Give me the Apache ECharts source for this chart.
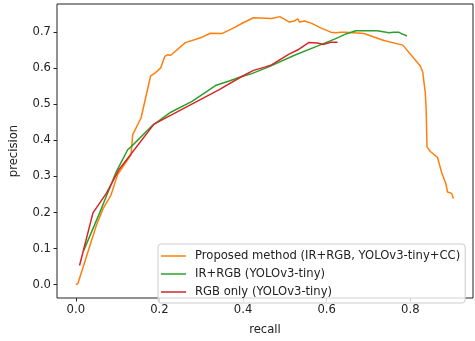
<!DOCTYPE html>
<html>
<head>
<meta charset="utf-8">
<script src="https://cdn.jsdelivr.net/npm/echarts@6/dist/echarts.min.js"></script>
<style>html,body{margin:0;padding:0;background:#fff}#c{width:475px;height:341px}</style>
</head>
<body>
<div id="c"></div>
<script>
const seriesNames = ['Proposed method (IR+RGB, YOLOv3-tiny+CC)', 'IR+RGB (YOLOv3-tiny)', 'RGB only (YOLOv3-tiny)'];
const xTicks = [0, 0.2, 0.4, 0.6, 0.8];
const yTicks = [0, 0.1, 0.2, 0.3, 0.4, 0.5, 0.6, 0.7];
const proposed = [[0,0],[0.005,0.003],[0.049,0.164],[0.065,0.21],[0.084,0.248],[0.1,0.305],[0.132,0.36],[0.136,0.416],[0.156,0.462],[0.179,0.579],[0.191,0.588],[0.203,0.601],[0.213,0.633],[0.219,0.637],[0.227,0.636],[0.262,0.671],[0.302,0.686],[0.322,0.697],[0.349,0.696],[0.373,0.709],[0.397,0.724],[0.425,0.740],[0.468,0.738],[0.488,0.743],[0.511,0.728],[0.523,0.731],[0.531,0.737],[0.535,0.728],[0.547,0.731],[0.563,0.725],[0.587,0.711],[0.610,0.700],[0.622,0.698],[0.634,0.700],[0.646,0.700],[0.689,0.696],[0.737,0.677],[0.782,0.664],[0.824,0.606],[0.830,0.588],[0.836,0.530],[0.838,0.485],[0.840,0.382],[0.848,0.369],[0.865,0.353],[0.875,0.311],[0.885,0.280],[0.889,0.257],[0.899,0.253],[0.903,0.239]];
const irRgb = [[0.019,0.095],[0.057,0.199],[0.096,0.311],[0.124,0.374],[0.132,0.382],[0.183,0.441],[0.227,0.478],[0.278,0.508],[0.334,0.552],[0.365,0.564],[0.397,0.577],[0.421,0.585],[0.460,0.603],[0.523,0.636],[0.579,0.662],[0.626,0.684],[0.646,0.695],[0.670,0.704],[0.721,0.704],[0.749,0.698],[0.760,0.700],[0.772,0.700],[0.780,0.695],[0.784,0.698],[0.788,0.692],[0.792,0.689]];
const rgbOnly = [[0.009,0.053],[0.041,0.199],[0.073,0.253],[0.104,0.320],[0.187,0.445],[0.342,0.540],[0.397,0.577],[0.425,0.594],[0.452,0.603],[0.468,0.609],[0.510,0.639],[0.533,0.652],[0.557,0.671],[0.577,0.670],[0.593,0.666],[0.610,0.672],[0.626,0.672]];
const colors = ['#ff7f0e', '#2ca02c', '#d62728'];

const chart = echarts.init(document.getElementById('c'), null, {renderer: 'canvas'});
const font = 'DejaVu Sans';
const mkSeries = (name, data, color) => ({
  name, type: 'line', data, symbol: 'none', smooth: false, animation: false,
  lineStyle: {color, width: 1.5}, itemStyle: {color}
});
chart.setOption({
  animation: false,
  grid: {left: 54, right: 2, top: 4, bottom: 33, show: true, borderColor: '#222', borderWidth: 1, backgroundColor: 'transparent'},
  xAxis: {
    type: 'value', min: -0.045, max: 0.95,
    name: 'recall', nameLocation: 'middle', nameGap: 26,
    nameTextStyle: {fontFamily: font, fontSize: 11.6, color: '#222'},
    axisLine: {show: false, onZero: false},
    splitLine: {show: false},
    axisTick: {show: true, customValues: xTicks, length: 3.5, lineStyle: {color: '#222'}},
    axisLabel: {customValues: xTicks, fontFamily: font, fontSize: 11.6, color: '#222', margin: 6, formatter: v => v.toFixed(1)}
  },
  yAxis: {
    type: 'value', min: -0.037, max: 0.778,
    name: 'precision', nameLocation: 'middle', nameGap: 37,
    nameTextStyle: {fontFamily: font, fontSize: 11.6, color: '#222'},
    axisLine: {show: false, onZero: false},
    splitLine: {show: false},
    axisTick: {show: true, customValues: yTicks, length: 3.5, lineStyle: {color: '#222'}},
    axisLabel: {customValues: yTicks, fontFamily: font, fontSize: 11.6, color: '#222', margin: 6, formatter: v => v.toFixed(1)}
  },
  legend: {
    orient: 'vertical', left: 158, top: 244,
    backgroundColor: 'rgba(255,255,255,0.8)', borderColor: '#ccc', borderWidth: 1, borderRadius: 3,
    padding: [6, 5, 5, 3],
    icon: 'rect', itemWidth: 25, itemHeight: 1.5, itemGap: 6,
    textStyle: {fontFamily: font, fontSize: 11.6, color: '#222', lineHeight: 12, padding: [0, 0, 0, 4]},
    data: seriesNames
  },
  series: [
    mkSeries(seriesNames[0], proposed, colors[0]),
    mkSeries(seriesNames[1], irRgb, colors[1]),
    mkSeries(seriesNames[2], rgbOnly, colors[2])
  ]
});
</script>
</body>
</html>
